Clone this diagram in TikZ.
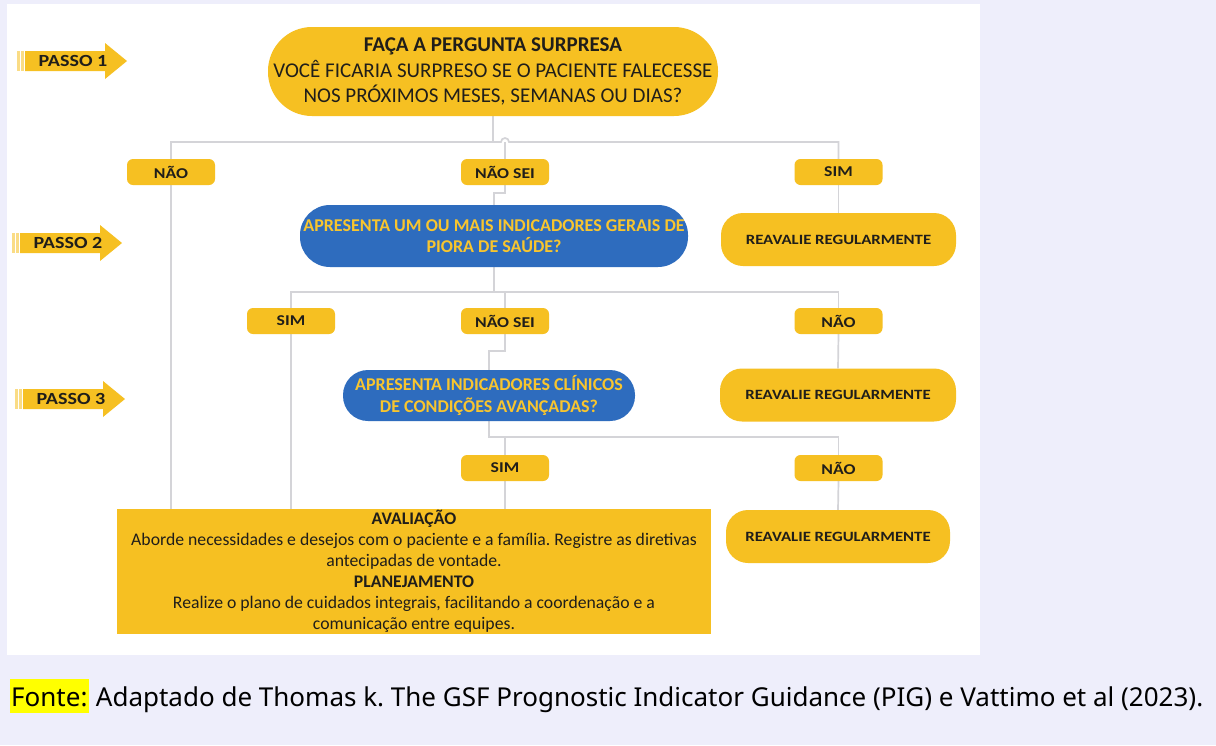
\documentclass[tikz,border=0pt]{standalone}
\usepackage{fontspec}
\setmainfont{Carlito}
\newfontfamily\widefont{Carlito}[FakeStretch=1.18]
\newfontfamily\footfont{Noto Sans}
\usetikzlibrary{calc}
\frenchspacing
\definecolor{bgl}{RGB}{238,238,251}
\definecolor{yel}{RGB}{246,192,34}
\definecolor{blu}{RGB}{46,108,190}
\definecolor{ytxt}{RGB}{248,197,46}
\definecolor{lin}{RGB}{212,212,216}
\definecolor{hl}{RGB}{255,255,0}
\definecolor{txt}{RGB}{32,30,26}
\pgfdeclarelayer{panel}
\pgfdeclarelayer{lines}
\pgfsetlayers{panel,lines,main}
\newcommand\passoarrow[4]{%
  \fill[yel!55] (#2,#3-10) rectangle (#2+2.5,#3+10);
  \fill[yel!55] (#2+4,#3-10) rectangle (#2+6.5,#3+10);
  \fill[yel] (#2+8,#3-10) -- (#2+88,#3-10) -- (#2+88,#3-18) -- (#2+110,#3) -- (#2+88,#3+18) -- (#2+88,#3+10) -- (#2+8,#3+10) -- cycle;
  \node[font=\widefont\fontsize{17}{19}\selectfont\bfseries, text=txt, inner sep=0pt] (#1) at (#2+56,#3) {#4};
}
\begin{document}
\begin{tikzpicture}[x=1pt,y=-1pt,
  conn/.style={draw=lin, line width=1.7pt},
  lbl/.style={fill=yel, rounded corners=6pt, minimum width=88pt, minimum height=26pt, inner sep=0pt, text=txt, font=\widefont\fontsize{15}{17}\selectfont\bfseries},
  pill/.style={fill=yel, inner sep=0pt, align=center, text=txt},
  bluepill/.style={fill=blu, text=ytxt, inner sep=0pt, align=center, font=\fontsize{18}{21.5}\selectfont\bfseries},
  reav/.style={fill=yel, rounded corners=22pt, minimum width=#1, minimum height=53pt, inner sep=0pt, text=txt, font=\widefont\fontsize{14.2}{16}\selectfont\bfseries},
]
\begin{pgfonlayer}{panel}
\fill[bgl] (0,0) rectangle (1216,745);
\fill[white] (7,4) rectangle (980,655);
\end{pgfonlayer}
\useasboundingbox (0,0) rectangle (1216,745);

% step arrows
\passoarrow{passo1}{17}{61}{PASSO 1}
\passoarrow{passo2}{12}{243}{PASSO 2}
\passoarrow{passo3}{15}{399}{PASSO 3}

% nodes
\node[pill, minimum width=450pt, minimum height=89pt, rounded corners=44pt, font=\fontsize{21}{25.5}\selectfont] (top) at (493,71.5)
  {\textbf{FAÇA A PERGUNTA SURPRESA}\\VOCÊ FICARIA SURPRESO SE O PACIENTE FALECESSE\\NOS PRÓXIMOS MESES, SEMANAS OU DIAS?};

\node[lbl] (nao1) at (171,172) {NÃO};
\node[lbl] (naosei1) at (505,172) {NÃO SEI};
\node[lbl] (sim1) at (838.5,172) {SIM};

\node[bluepill, minimum width=388pt, minimum height=62pt, rounded corners=30pt] (blue1) at (494,236)
  {APRESENTA UM OU MAIS INDICADORES GERAIS DE\\PIORA DE SAÚDE?};
\node[reav=235pt] (reav1) at (838.5,239.5) {REAVALIE REGULARMENTE};

\node[lbl] (sim2) at (291,321) {SIM};
\node[lbl] (naosei2) at (505,321) {NÃO SEI};
\node[lbl] (nao2) at (838.5,321) {NÃO};

\node[bluepill, minimum width=292pt, minimum height=51pt, rounded corners=25pt] (blue2) at (489,395.5)
  {APRESENTA INDICADORES CLÍNICOS\\DE CONDIÇÕES AVANÇADAS?};
\node[reav=236pt] (reav2) at (838,395) {REAVALIE REGULARMENTE};

\node[lbl] (sim3) at (505,468) {SIM};
\node[lbl] (nao3) at (838.5,468) {NÃO};
\node[reav=224pt] (reav3) at (838,536.5) {REAVALIE REGULARMENTE};

\node[pill, minimum width=594pt, minimum height=125pt, font=\fontsize{17.7}{21}\selectfont] (aval) at (414,571.5)
  {\textbf{AVALIAÇÃO}\\Aborde necessidades e desejos com o paciente e a família. Registre as diretivas\\antecipadas de vontade.\\\textbf{PLANEJAMENTO}\\Realize o plano de cuidados integrais, facilitando a coordenação e a\\comunicação entre equipes.};

% connectors
\coordinate (h1) at (493,142);
\coordinate (h2) at (493,292);
\coordinate (h3) at (489,437);
\begin{pgfonlayer}{lines}
\draw[conn] (top.south) -- (h1);
\draw[conn] (nao1.north) |- ($(naosei1.north |- h1)+(-4,0)$) arc[start angle=180, end angle=360, radius=4] -- (sim1.north |- h1) -- (sim1.north);
\draw[conn] (naosei1.north) -- (naosei1.north |- h1);
\draw[conn] (naosei1.south) -- ++(0,8) -| (blue1.north);
\draw[conn] (sim1.south) -- (reav1.north);
\draw[conn] (nao1.south) -- (nao1.south |- aval.north);
\draw[conn] (blue1.south) -- (blue1.south |- h2);
\draw[conn] (sim2.north) |- (nao2.north |- h2) -- (nao2.north);
\draw[conn] (naosei2.north) -- (naosei2.north |- h2);
\draw[conn] (sim2.south) -- (sim2.south |- aval.north);
\draw[conn] (nao2.south) -- (reav2.north);
\draw[conn] (naosei2.south) -- ++(0,17) -| (blue2.north);
\draw[conn] (blue2.south) |- (nao3.north |- h3) -- (nao3.north);
\draw[conn] (sim3.north) -- (sim3.north |- h3);
\draw[conn] (sim3.south) -- (sim3.south |- aval.north);
\draw[conn] (nao3.south) -- (reav3.north);
\end{pgfonlayer}

% footer
\node[fill=hl, anchor=base west, inner xsep=1pt, inner ysep=3pt, text height=24pt, text depth=4pt, font=\footfont\fontsize{26}{30}\selectfont, text=black] (fonte) at (10,706) {Fonte:};
\node[anchor=base west, inner sep=0pt, font=\footfont\fontsize{26}{30}\selectfont, text=black] (ref) at ($(fonte.base east)+(7,0)$)
  {Adaptado de Thomas k. The GSF Prognostic Indicator Guidance (PIG) e Vattimo et al (2023).};
\end{tikzpicture}
\end{document}
